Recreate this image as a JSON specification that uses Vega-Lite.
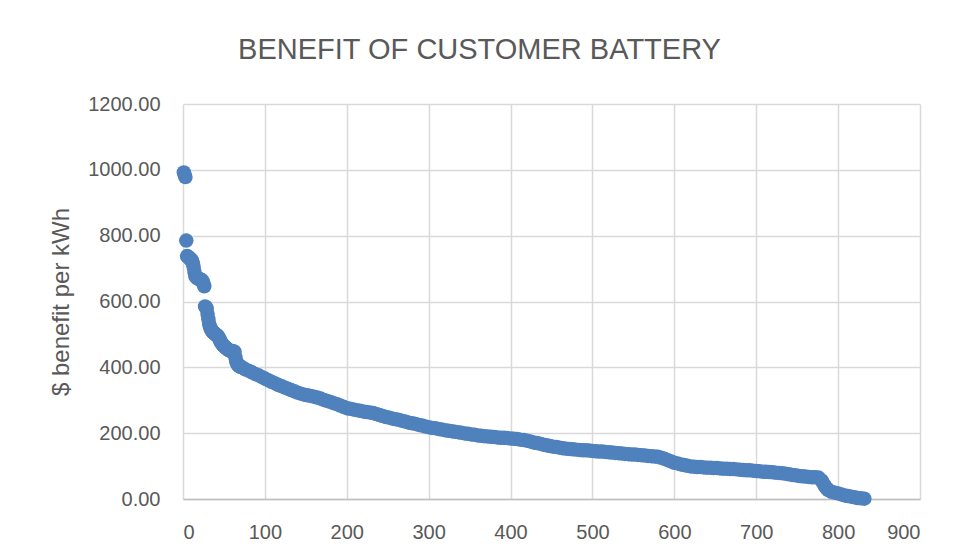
{
 "$schema": "https://vega.github.io/schema/vega-lite/v6.json",
 "width": 737, "height": 395,
 "autosize": {"type": "none"},
 "padding": {"left": 183, "top": 104, "right": 37, "bottom": 58},
 "background": "white",
 "title": {"text": "BENEFIT OF CUSTOMER BATTERY", "font": "Liberation Sans", "fontSize": 29, "fontWeight": "normal", "color": "#595959", "anchor": "middle", "dx": -72, "offset": 29},
 "data": {"values": [
{"x":1,"y":992},{"x":2,"y":985},{"x":3,"y":978},{"x":4,"y":785},{"x":5,"y":738},{"x":6,"y":736},{"x":7,"y":734},{"x":8,"y":731},{"x":9,"y":729},{"x":10,"y":727},
{"x":11,"y":724},{"x":12,"y":716},{"x":13,"y":705},{"x":14,"y":690},{"x":15,"y":678},{"x":16,"y":675},{"x":17,"y":672},{"x":18,"y":670},{"x":19,"y":669},{"x":20,"y":668},
{"x":21,"y":667},{"x":22,"y":666},{"x":23,"y":665},{"x":24,"y":661},{"x":25,"y":654},{"x":26,"y":646},{"x":27,"y":585},{"x":28,"y":582},{"x":29,"y":578},{"x":30,"y":562},
{"x":31,"y":546},{"x":32,"y":532},{"x":33,"y":523},{"x":34,"y":517},{"x":35,"y":512},{"x":36,"y":508},{"x":37,"y":506},{"x":38,"y":504},{"x":39,"y":502},{"x":40,"y":500},
{"x":41,"y":498},{"x":42,"y":496},{"x":43,"y":493},{"x":44,"y":489},{"x":45,"y":484},{"x":46,"y":478},{"x":47,"y":474},{"x":48,"y":470},{"x":49,"y":467},{"x":50,"y":465},
{"x":51,"y":462},{"x":52,"y":460},{"x":53,"y":458},{"x":54,"y":456},{"x":55,"y":454},{"x":56,"y":452},{"x":57,"y":451},{"x":58,"y":450},{"x":59,"y":450},{"x":60,"y":449},
{"x":61,"y":448},{"x":62,"y":448},{"x":63,"y":447},{"x":64,"y":430},{"x":65,"y":418},{"x":66,"y":412},{"x":67,"y":408},{"x":68,"y":405},{"x":69,"y":403},{"x":70,"y":402},
{"x":71,"y":401},{"x":72,"y":400},{"x":76,"y":394},{"x":80,"y":390},{"x":84,"y":385},{"x":88,"y":380},{"x":92,"y":376},{"x":96,"y":371},{"x":100,"y":366},{"x":104,"y":361},
{"x":108,"y":356},{"x":112,"y":352},{"x":116,"y":347},{"x":120,"y":343},{"x":124,"y":339},{"x":128,"y":335},{"x":132,"y":331},{"x":136,"y":327},{"x":140,"y":323},{"x":144,"y":320},
{"x":148,"y":317},{"x":152,"y":315},{"x":156,"y":313},{"x":160,"y":311},{"x":164,"y":308},{"x":168,"y":305},{"x":172,"y":301},{"x":176,"y":298},{"x":180,"y":295},{"x":184,"y":291},
{"x":188,"y":288},{"x":192,"y":284},{"x":196,"y":280},{"x":200,"y":276},{"x":204,"y":274},{"x":208,"y":272},{"x":212,"y":270},{"x":216,"y":268},{"x":220,"y":266},{"x":224,"y":264},
{"x":228,"y":263},{"x":232,"y":261},{"x":236,"y":258},{"x":240,"y":255},{"x":244,"y":252},{"x":248,"y":249},{"x":252,"y":247},{"x":256,"y":244},{"x":260,"y":242},{"x":264,"y":240},
{"x":268,"y":237},{"x":272,"y":235},{"x":276,"y":232},{"x":280,"y":230},{"x":284,"y":228},{"x":288,"y":225},{"x":292,"y":223},{"x":296,"y":220},{"x":300,"y":218},{"x":304,"y":216},
{"x":308,"y":215},{"x":312,"y":213},{"x":316,"y":211},{"x":320,"y":209},{"x":324,"y":207},{"x":328,"y":206},{"x":332,"y":204},{"x":336,"y":203},{"x":340,"y":201},{"x":344,"y":199},
{"x":348,"y":198},{"x":352,"y":196},{"x":356,"y":195},{"x":360,"y":193},{"x":364,"y":192},{"x":368,"y":191},{"x":372,"y":190},{"x":376,"y":189},{"x":380,"y":188},{"x":384,"y":187},
{"x":388,"y":186},{"x":392,"y":186},{"x":396,"y":185},{"x":400,"y":184},{"x":404,"y":183},{"x":408,"y":182},{"x":412,"y":180},{"x":416,"y":179},{"x":420,"y":177},{"x":424,"y":175},
{"x":428,"y":172},{"x":432,"y":170},{"x":436,"y":168},{"x":440,"y":165},{"x":444,"y":163},{"x":448,"y":161},{"x":452,"y":159},{"x":456,"y":158},{"x":460,"y":156},{"x":464,"y":154},
{"x":468,"y":153},{"x":472,"y":152},{"x":476,"y":151},{"x":480,"y":150},{"x":484,"y":149},{"x":488,"y":148},{"x":492,"y":148},{"x":496,"y":147},{"x":500,"y":146},{"x":504,"y":145},
{"x":508,"y":144},{"x":512,"y":144},{"x":516,"y":143},{"x":520,"y":142},{"x":524,"y":141},{"x":528,"y":140},{"x":532,"y":139},{"x":536,"y":138},{"x":540,"y":137},{"x":544,"y":136},
{"x":548,"y":135},{"x":552,"y":135},{"x":556,"y":134},{"x":560,"y":133},{"x":564,"y":132},{"x":568,"y":131},{"x":572,"y":130},{"x":576,"y":129},{"x":580,"y":128},{"x":584,"y":125},
{"x":588,"y":122},{"x":592,"y":118},{"x":596,"y":114},{"x":600,"y":110},{"x":604,"y":108},{"x":608,"y":105},{"x":612,"y":103},{"x":616,"y":101},{"x":620,"y":99},{"x":624,"y":98},
{"x":628,"y":97},{"x":632,"y":97},{"x":636,"y":96},{"x":640,"y":95},{"x":644,"y":95},{"x":648,"y":94},{"x":652,"y":94},{"x":656,"y":93},{"x":660,"y":92},{"x":664,"y":92},
{"x":668,"y":91},{"x":672,"y":91},{"x":676,"y":90},{"x":680,"y":89},{"x":684,"y":88},{"x":688,"y":87},{"x":692,"y":87},{"x":696,"y":86},{"x":700,"y":85},{"x":704,"y":84},
{"x":708,"y":83},{"x":712,"y":83},{"x":716,"y":82},{"x":720,"y":81},{"x":724,"y":80},{"x":728,"y":79},{"x":732,"y":78},{"x":736,"y":77},{"x":740,"y":75},{"x":744,"y":73},
{"x":748,"y":72},{"x":752,"y":70},{"x":756,"y":69},{"x":760,"y":68},{"x":764,"y":67},{"x":768,"y":66},{"x":772,"y":66},{"x":776,"y":65},{"x":780,"y":56},{"x":782,"y":47},
{"x":784,"y":38},{"x":786,"y":32},{"x":788,"y":27},{"x":792,"y":22},{"x":796,"y":19},{"x":800,"y":17},{"x":804,"y":14},{"x":808,"y":11},{"x":812,"y":9},{"x":816,"y":7},
{"x":820,"y":5},{"x":824,"y":3},{"x":828,"y":2},{"x":832,"y":1}
 ]},
 "mark": {"type": "circle", "size": 210, "color": "#4F81BD", "opacity": 1},
 "encoding": {
  "x": {"field": "x", "type": "quantitative",
        "scale": {"domain": [0, 900], "nice": false},
        "axis": {"values": [0,100,200,300,400,500,600,700,800,900], "title": null, "labelPadding": 23, "domain": true, "domainColor": "#BFBFBF", "domainWidth": 1.5}},
  "y": {"field": "y", "type": "quantitative",
        "scale": {"domain": [0, 1200], "nice": false},
        "axis": {"values": [0,200,400,600,800,1000,1200], "format": ".2f", "title": "$ benefit per kWh", "labelPadding": 23, "domain": false, "titlePadding": 14}}
 },
 "config": {
  "view": {"stroke": null},
  "axis": {"labelFont": "Liberation Sans", "labelFontSize": 20, "labelColor": "#595959", "ticks": false, "tickSize": 0,
           "gridColor": "#D9D9D9", "gridWidth": 1.5, "gridOpacity": 1,
           "titleFont": "Liberation Sans", "titleFontSize": 24, "titleFontWeight": "normal", "titleColor": "#595959"}
 }
}
